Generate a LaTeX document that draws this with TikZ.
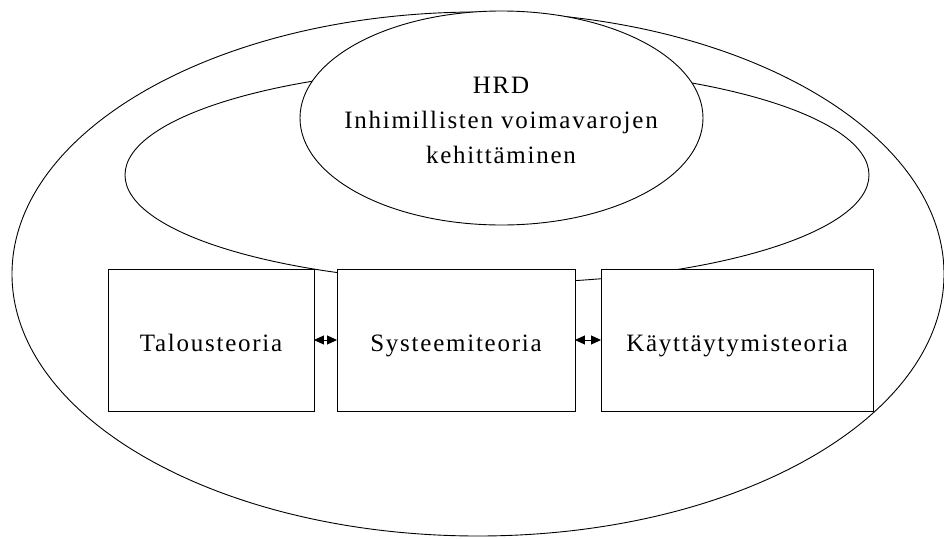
\documentclass[tikz,border=0pt]{standalone}
\usepackage{fontspec}
\setmainfont{Liberation Serif}[LetterSpace=7]
\usetikzlibrary{arrows.meta,shapes.geometric}
\begin{document}
\begin{tikzpicture}[x=1pt,y=-1pt,
  ring/.style={draw=black,line width=0.9pt},
  theory/.style={draw=black,fill=white,line width=0.9pt,inner sep=0,
    minimum height=142,text height=22pt,text depth=0pt,
    font=\fontsize{25}{30}\selectfont},
  link/.style={line width=0.9pt,shorten <=-0.5pt,shorten >=-0.5pt,
    {Triangle[length=10pt,width=9pt]}-{Triangle[length=10pt,width=9pt]}}]
\useasboundingbox (0,0) rectangle (944,538);
% outer and middle rings
\draw[ring] (478,274) ellipse [x radius=466,y radius=262];
\draw[ring] (497,175) ellipse [x radius=372,y radius=108];
% HRD ellipse
\node[ring,fill=white,ellipse,minimum width=403,minimum height=214,inner sep=0] (hrd) at (501.5,118) {};
\node[align=center,inner sep=0,font=\fontsize{25}{35}\selectfont] (hrdtext) at (501,120)
  {HRD\\Inhimillisten voimavarojen\\kehittäminen};
% theory boxes
\node[theory,minimum width=206] (talous) at (211,340) {Talousteoria};
\node[theory,minimum width=238] (systeemi) at (456,340) {Systeemiteoria};
\node[theory,minimum width=272] (kaytt) at (737,340) {Käyttäytymisteoria};
% connectors
\draw[link] (talous.east) -- (systeemi.west);
\draw[link] (systeemi.east) -- (kaytt.west);
\end{tikzpicture}
\end{document}
